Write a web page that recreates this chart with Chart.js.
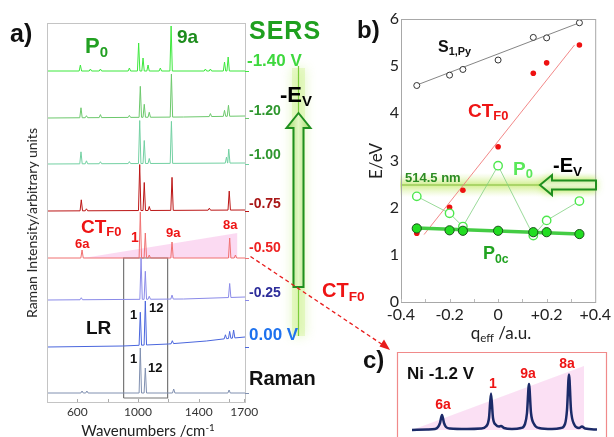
<!DOCTYPE html>
<html>
<head>
<meta charset="utf-8">
<script src="https://cdn.jsdelivr.net/npm/chart.js@4.4.0/dist/chart.umd.min.js"></script>
<style>
    html, body { margin: 0; padding: 0; background: #fff; }
    #wrap { position: relative; width: 614px; height: 437px; overflow: hidden; font-family: 'Liberation Sans', Arial, sans-serif; }
    #wrap canvas { position: absolute; left: 0; top: 0; }
    .t { position: absolute; white-space: nowrap; line-height: 1; transform: translateY(-50%); font-weight: bold; }
    .c { transform: translate(-50%, -50%); }
    .t sub { font-size: 0.68em; vertical-align: -0.3em; line-height: 0; }
    .t sup { font-size: 0.65em; vertical-align: 0.45em; line-height: 0; }
    .rot { position: absolute; white-space: nowrap; line-height: 1; transform: translate(-50%, -50%) rotate(-90deg); }
    .lato { font-family: Lato, 'Open Sans', sans-serif; font-weight: normal; color: #222; }
    .red { color: #ee1414; }
</style>
</head>
<body>
<div id="wrap">
    <canvas id="spectraChart" width="614" height="437"></canvas>
    <canvas id="energyChart" width="614" height="437"></canvas>
    <canvas id="insetChart" width="614" height="437"></canvas>

    <!-- panel a labels -->
    <div class="t" style="left:10px;top:33px;font-size:25px;color:#111">a)</div>
    <div class="t" style="left:85px;top:46px;font-size:22px;color:#22a022">P<sub>0</sub></div>
    <div class="t" style="left:177px;top:36px;font-size:19px;color:#1d8c1d">9a</div>
    <div class="t" style="left:249px;top:30px;font-size:25px;color:#1fa01f;letter-spacing:1px">SERS</div>
    <div class="t" style="left:247px;top:60px;font-size:17px;color:#3ed83e">-1.40 V</div>
    <div class="t" style="left:249px;top:110px;font-size:14px;color:#2e962e">-1.20</div>
    <div class="t" style="left:249px;top:154px;font-size:14px;color:#2e962e">-1.00</div>
    <div class="t" style="left:249px;top:203px;font-size:14px;color:#a81616">-0.75</div>
    <div class="t" style="left:249px;top:247px;font-size:14px;color:#ee2222">-0.50</div>
    <div class="t" style="left:249px;top:292px;font-size:14px;color:#2d2d9a">-0.25</div>
    <div class="t" style="left:249px;top:334px;font-size:17px;color:#1e72ee">0.00 V</div>
    <div class="t" style="left:249px;top:378px;font-size:20px;color:#111">Raman</div>
    <div class="t" style="left:280px;top:95px;font-size:22px;color:#000">-E<sub>V</sub></div>
    <div class="t red" style="left:81px;top:226px;font-size:19px">CT<sub>F0</sub></div>
    <div class="t red" style="left:75px;top:243px;font-size:13px">6a</div>
    <div class="t red" style="left:131px;top:237px;font-size:14px">1</div>
    <div class="t red" style="left:166px;top:232px;font-size:13px">9a</div>
    <div class="t red" style="left:223px;top:224px;font-size:13px">8a</div>
    <div class="t" style="left:86px;top:327px;font-size:19px;color:#111">LR</div>
    <div class="t" style="left:130px;top:314px;font-size:13px;color:#111">1</div>
    <div class="t" style="left:149px;top:307px;font-size:13px;color:#111">12</div>
    <div class="t" style="left:130px;top:358px;font-size:13px;color:#111">1</div>
    <div class="t" style="left:148px;top:367px;font-size:13px;color:#111">12</div>
    <div class="rot lato" style="left:32px;top:223px;font-size:14px">Raman Intensity/arbitrary units</div>
    <div class="t c lato" style="left:148px;top:430px;font-size:15px">Wavenumbers /cm<sup>-1</sup></div>
    <div class="t red" style="left:322px;top:290px;font-size:20px">CT<sub>F0</sub></div>

    <!-- panel b labels -->
    <div class="t" style="left:357px;top:30px;font-size:24px;color:#111">b)</div>
    <div class="t" style="left:438px;top:47px;font-size:16px;color:#111">S<sub>1,Py</sub></div>
    <div class="t red" style="left:468px;top:110px;font-size:19px">CT<sub>F0</sub></div>
    <div class="t" style="left:513px;top:168px;font-size:19px;color:#5ae85a">P<sub>0</sub></div>
    <div class="t" style="left:553px;top:165px;font-size:20px;color:#000">-E<sub>V</sub></div>
    <div class="t" style="left:405px;top:177px;font-size:13px;color:#2b8c22">514.5 nm</div>
    <div class="t" style="left:483px;top:253px;font-size:18px;color:#22a322">P<sub>0c</sub></div>
    <div class="rot lato" style="left:375px;top:161px;font-size:17px">E/eV</div>
    <div class="t c lato" style="left:501px;top:332px;font-size:17px">q<sub>eff</sub> /a.u.</div>

    <!-- panel c labels -->
    <div class="t" style="left:363px;top:360px;font-size:24px;color:#111">c)</div>
    <div class="t" style="left:407px;top:373px;font-size:17px;color:#111">Ni -1.2 V</div>
    <div class="t c red" style="left:443px;top:404px;font-size:14px">6a</div>
    <div class="t c red" style="left:493px;top:383px;font-size:14px">1</div>
    <div class="t c red" style="left:528px;top:373px;font-size:14px">9a</div>
    <div class="t c red" style="left:567px;top:363px;font-size:14px">8a</div>
</div>

<script>
// --- panel a: stacked SERS spectra (wavenumber cm-1, height in arbitrary units) ---
const wavenumberTicks = [600, 800, 1000, 1200, 1400, 1600, 1700];
const wavenumberLabels = ['600', '', '1000', '', '1400', '', '1700'];
const traceNames = ['-1.40 V', '-1.20', '-1.00', '-0.75', '-0.50', '-0.25', '0.00 V', 'Raman'];
const traceColors = ['#3de83d', '#6cc86c', '#72d0a2', '#bb1515', '#f07070', '#8a8ae8', '#4a66dd', '#8090b0'];
const traceOffsets = [331, 284, 238, 191, 144, 102, 55, 9];
const traceBaselines = [
    [[400, 0], [1705, 0]],
    [[400, 0], [1300, 1], [1705, 2]],
    [[400, 0], [1705, 1]],
    [[400, 0], [1705, 1]],
    [[400, 0], [1705, 0]],
    [[400, 0], [1300, 1], [1705, 3]],
    [[400, 0], [900, 1], [1200, 3], [1450, 6], [1560, 8], [1705, 10]],
    [[400, 0], [1705, 0]]
];
const tracePeaks = [
    [[620, 6], [686, 2], [752, 2], [943, 3], [1004, 28], [1033, 13], [1066, 6], [1147, 3], [1218, 45], [1444, 2], [1477, 2], [1570, 9], [1594, 14]],
    [[624, 10], [660, 2], [752, 3], [943, 2], [1015, 31], [1041, 13], [1074, 5], [1220, 43], [1477, 3], [1570, 6], [1596, 11]],
    [[624, 12], [660, 3], [752, 2], [943, 2], [1011, 43], [1041, 23], [1074, 5], [1220, 42], [1583, 6], [1598, 14]],
    [[626, 11], [660, 2], [1011, 46], [1041, 28], [1074, 4], [1224, 33], [1470, 2], [1601, 19]],
    [[631, 8], [1015, 46], [1048, 25], [1074, 3], [1224, 16], [1604, 20], [1642, 3]],
    [[626, 2], [1020, 41], [1048, 28], [1074, 3], [1224, 4], [1604, 14]],
    [[1015, 33], [1048, 44], [1226, 3], [1576, 4], [1604, 7], [1630, 8]],
    [[631, 2], [663, 2], [1015, 45], [1048, 25], [1235, 4], [1600, 3]]
];
// CT enhancement wedge on the -0.50 V trace and the LR window
const ctWedge = [[640, 0], [1655, 25]];
const lrWindow = [905, 1195, 4, 144];

// --- panel b: energies vs effective charge ---
const qEff = [-0.335, -0.2, -0.145, 0, 0.145, 0.2, 0.335];
const s1Energy = [4.59, 4.81, 4.93, 5.13, 5.61, 5.60, 5.92];
const ctEnergy = [1.46, 2.01, 2.37, 3.29, 4.85, 5.07, 5.45];
const p0Energy = [2.24, 1.88, 1.60, 2.89, 1.41, 1.73, 2.14];
const p0cEnergy = [1.56, 1.52, 1.51, 1.51, 1.48, 1.48, 1.44];
const s1Fit = [[-0.335, 4.60], [0.335, 5.92]];
const ctFit = [[-0.305, 1.43], [0.315, 5.45]];
const p0cFit = [[-0.335, 1.57], [0.335, 1.44]];
const laserEnergy = 2.48;
const qTicks = [-0.4, -0.3, -0.2, -0.1, 0, 0.1, 0.2, 0.3, 0.4];
const qLabels = ['-0.4', '', '-0.2', '', '0', '', '+0.2', '', '+0.4'];

// --- panel c: Ni -1.2 V inset spectrum (relative shift, intensity) ---
const insetShift = [15, 30, 38, 41, 43, 45, 47, 49, 53, 70, 84, 89, 92, 94, 96, 99, 102, 104, 107, 115, 124, 128, 130, 132, 134, 137, 142, 155, 164, 168, 170, 172, 174, 177, 182, 185, 188, 200];
const insetIntensity = [7, 7.5, 8, 10, 14, 22, 14, 10, 8.5, 8, 8.5, 10.5, 19, 43.5, 19, 12, 10.5, 11, 9, 8, 9, 13, 24, 53, 24, 13, 9, 8, 9, 13, 27, 62.5, 27, 13, 9, 10.5, 8.5, 7.5];
const insetWedge = [[15, 7], [187, 71]];

const tickFont = { family: "Lato, 'Open Sans', sans-serif" };

// --- helpers ---
function baselineAt(knots, x) {
    for (let k = 1; k < knots.length; k++) {
        if (x <= knots[k][0]) {
            const [x0, y0] = knots[k - 1], [x1, y1] = knots[k];
            return y0 + (y1 - y0) * (x - x0) / (x1 - x0);
        }
    }
    return knots[knots.length - 1][1];
}

function buildTrace(i) {
    const base = traceOffsets[i];
    const knots = traceBaselines[i];
    const pts = knots.map(([x, y]) => ({ x, y: base + y }));
    tracePeaks[i].forEach(([p, h]) => {
        pts.push({ x: p - 8, y: base + baselineAt(knots, p - 8) });
        pts.push({ x: p, y: base + baselineAt(knots, p) + h });
        pts.push({ x: p + 8, y: base + baselineAt(knots, p + 8) });
    });
    return pts.sort((a, b) => a.x - b.x);
}

const toPoints = (xs, ys) => xs.map((x, i) => ({ x, y: ys[i] }));
const pairPoints = (arr) => arr.map(([x, y]) => ({ x, y }));

// --- decorations drawn on the spectra canvas ---
const spectraDecor = {
    id: 'spectraDecor',
    afterDraw(chart) {
        const { ctx, chartArea: a, scales } = chart;
        ctx.save();
        // frame
        ctx.strokeStyle = '#c4c4c4';
        ctx.lineWidth = 1;
        ctx.strokeRect(a.left + 0.5, a.top + 0.5, a.right - a.left, a.bottom - a.top);
        // inner tick marks
        ctx.strokeStyle = '#aaa';
        wavenumberTicks.forEach(v => {
            const x = Math.round(scales.x.getPixelForValue(v)) + 0.5;
            ctx.beginPath(); ctx.moveTo(x, a.bottom); ctx.lineTo(x, a.bottom - 3); ctx.stroke();
        });
        // coloured trace marks on the right edge
        traceOffsets.forEach((o, i) => {
            const y = Math.round(scales.y.getPixelForValue(o)) + 0.5;
            ctx.strokeStyle = traceColors[i];
            ctx.beginPath(); ctx.moveTo(a.right, y); ctx.lineTo(a.right + 4, y); ctx.stroke();
        });

        // glowing vertical potential arrow
        ctx.save();
        ctx.shadowColor = 'rgba(170,230,70,0.95)';
        ctx.shadowBlur = 12;
        ctx.fillStyle = 'rgba(200,240,130,0.35)';
        ctx.fillRect(292, 68, 13, 268);
        ctx.restore();
        ctx.strokeStyle = '#7ccd3c';
        ctx.lineWidth = 1.2;
        ctx.beginPath(); ctx.moveTo(298.5, 66); ctx.lineTo(298.5, 336); ctx.stroke();

        ctx.beginPath();
        ctx.moveTo(298.5, 113);
        ctx.lineTo(310.5, 128);
        ctx.lineTo(303.5, 128);
        ctx.lineTo(303.5, 287);
        ctx.lineTo(293.5, 287);
        ctx.lineTo(293.5, 128);
        ctx.lineTo(286.5, 128);
        ctx.closePath();
        const g = ctx.createLinearGradient(287, 0, 310, 0);
        g.addColorStop(0, '#a4dc6a');
        g.addColorStop(0.5, '#e4f7c6');
        g.addColorStop(1, '#a4dc6a');
        ctx.fillStyle = g;
        ctx.fill();
        ctx.strokeStyle = '#1f8f1f';
        ctx.lineWidth = 2;
        ctx.stroke();

        // red dashed pointer to inset c)
        ctx.strokeStyle = '#e81c1c';
        ctx.fillStyle = '#e81c1c';
        ctx.lineWidth = 1.3;
        ctx.setLineDash([4, 3]);
        ctx.beginPath(); ctx.moveTo(250.5, 256.5); ctx.lineTo(383, 345); ctx.stroke();
        ctx.setLineDash([]);
        ctx.beginPath();
        ctx.moveTo(390, 350);
        ctx.lineTo(379.5, 346.5);
        ctx.lineTo(384, 339.5);
        ctx.closePath();
        ctx.fill();
        ctx.restore();
    }
};

const spectraDatasets = traceNames.map((name, i) => ({
    label: name,
    data: buildTrace(i),
    showLine: true,
    borderColor: traceColors[i],
    borderWidth: 1,
    pointRadius: 0,
    fill: false
}));
spectraDatasets.push({
    label: 'LR',
    data: [
        { x: lrWindow[0], y: lrWindow[2] }, { x: lrWindow[0], y: lrWindow[3] },
        { x: lrWindow[1], y: lrWindow[3] }, { x: lrWindow[1], y: lrWindow[2] },
        { x: lrWindow[0], y: lrWindow[2] }
    ],
    showLine: true, borderColor: '#777', borderWidth: 1.2, pointRadius: 0, fill: false
});
spectraDatasets.push({
    label: 'CT wedge',
    data: ctWedge.map(([x, y]) => ({ x, y: traceOffsets[4] + y })),
    showLine: true, borderWidth: 0, pointRadius: 0,
    backgroundColor: 'rgba(250,205,238,0.75)',
    fill: { value: traceOffsets[4] }
});

new Chart(document.getElementById('spectraChart'), {
    type: 'scatter',
    data: { datasets: spectraDatasets },
    options: {
        responsive: false, animation: false, events: [],
        layout: { padding: { left: 47, right: 369, top: 23, bottom: 0 } },
        plugins: { legend: { display: false }, tooltip: { enabled: false } },
        scales: {
            x: {
                type: 'linear', min: 400, max: 1705,
                afterFit(s) { s.height = 35; },
                afterBuildTicks(s) { s.ticks = wavenumberTicks.map(v => ({ value: v })); },
                ticks: { callback: (v, i) => wavenumberLabels[i], autoSkip: false, maxRotation: 0, padding: 3, color: '#333', font: { ...tickFont, size: 12 } },
                grid: { display: false, drawTicks: false },
                border: { display: false }
            },
            y: { display: false, min: 0, max: 379 }
        }
    },
    plugins: [spectraDecor]
});

// --- panel b ---
const energyDecor = {
    id: 'energyDecor',
    beforeDatasetsDraw(chart) {
        const { ctx, chartArea: a, scales } = chart;
        const y = scales.y.getPixelForValue(laserEnergy);
        ctx.save();
        const g = ctx.createLinearGradient(0, y - 12, 0, y + 12);
        g.addColorStop(0, 'rgba(205,238,130,0)');
        g.addColorStop(0.5, 'rgba(180,228,70,0.6)');
        g.addColorStop(1, 'rgba(205,238,130,0)');
        ctx.fillStyle = g;
        ctx.fillRect(a.left - 1, y - 12, a.right - a.left + 2, 24);
        ctx.strokeStyle = '#9ccc5a';
        ctx.lineWidth = 1.5;
        ctx.beginPath(); ctx.moveTo(a.left, y); ctx.lineTo(a.right, y); ctx.stroke();
        ctx.restore();
    },
    afterDraw(chart) {
        const { ctx, chartArea: a, scales } = chart;
        ctx.save();
        ctx.strokeStyle = '#a8a8a8';
        ctx.lineWidth = 1;
        ctx.strokeRect(a.left + 0.5, a.top + 0.5, a.right - a.left, a.bottom - a.top);
        ctx.strokeStyle = '#bbb';
        qTicks.forEach(v => {
            const x = Math.round(scales.x.getPixelForValue(v)) + 0.5;
            ctx.beginPath(); ctx.moveTo(x, a.bottom); ctx.lineTo(x, a.bottom - 3); ctx.stroke();
        });
        // left-pointing -Ev arrow on the laser line
        const y = scales.y.getPixelForValue(laserEnergy);
        ctx.shadowColor = 'rgba(170,230,60,0.9)';
        ctx.shadowBlur = 8;
        ctx.beginPath();
        ctx.moveTo(540, y);
        ctx.lineTo(552, y - 10);
        ctx.lineTo(552, y - 4.5);
        ctx.lineTo(596, y - 4.5);
        ctx.lineTo(596, y + 4.5);
        ctx.lineTo(552, y + 4.5);
        ctx.lineTo(552, y + 10);
        ctx.closePath();
        const g = ctx.createLinearGradient(0, y - 10, 0, y + 10);
        g.addColorStop(0, '#b4e47e');
        g.addColorStop(0.5, '#e8f8cc');
        g.addColorStop(1, '#b4e47e');
        ctx.fillStyle = g;
        ctx.fill();
        ctx.shadowBlur = 0;
        ctx.strokeStyle = '#1f8f1f';
        ctx.lineWidth = 2;
        ctx.stroke();
        ctx.restore();
    }
};

new Chart(document.getElementById('energyChart'), {
    type: 'scatter',
    data: {
        datasets: [
            { label: 'P0c', data: toPoints(qEff, p0cEnergy), pointRadius: 4.6, pointBackgroundColor: '#22dd22', pointBorderColor: '#1c4f1c', pointBorderWidth: 1 },
            { label: 'P0c fit', data: pairPoints(p0cFit), showLine: true, borderColor: '#44cc44', borderWidth: 3.5, pointRadius: 0 },
            { label: 'P0', data: toPoints(qEff, p0Energy), showLine: true, borderColor: '#80d080', borderWidth: 0.8, pointRadius: 4.2, pointBackgroundColor: '#fff', pointBorderColor: '#4ee84e', pointBorderWidth: 1.4 },
            { label: 'CTF0', data: toPoints(qEff, ctEnergy), pointRadius: 2.8, pointBackgroundColor: '#ee1111', pointBorderColor: '#ee1111', pointBorderWidth: 0 },
            { label: 'CT fit', data: pairPoints(ctFit), showLine: true, borderColor: '#f07a7a', borderWidth: 0.9, pointRadius: 0 },
            { label: 'S1,Py', data: toPoints(qEff, s1Energy), pointRadius: 3, pointBackgroundColor: '#fff', pointBorderColor: '#333', pointBorderWidth: 1 },
            { label: 'S1 fit', data: pairPoints(s1Fit), showLine: true, borderColor: '#666', borderWidth: 0.8, pointRadius: 0 }
        ]
    },
    options: {
        responsive: false, animation: false, events: [],
        layout: { padding: { left: 379, right: 12, top: 19, bottom: 110 } },
        plugins: { legend: { display: false }, tooltip: { enabled: false } },
        scales: {
            x: {
                type: 'linear', min: -0.4, max: 0.4,
                afterFit(s) { s.height = 25; },
                afterBuildTicks(s) { s.ticks = qTicks.map(v => ({ value: v })); },
                ticks: { callback: (v, i) => qLabels[i], autoSkip: false, maxRotation: 0, padding: 3, color: '#222', font: { ...tickFont, size: 16 } },
                grid: { display: false, drawTicks: false },
                border: { display: false }
            },
            y: {
                min: 0, max: 6,
                afterFit(s) { s.width = 22; },
                ticks: { stepSize: 1, padding: 2, color: '#222', font: { ...tickFont, size: 16 } },
                grid: { display: false, drawTicks: false },
                border: { display: false }
            }
        }
    },
    plugins: [energyDecor]
});

// --- panel c ---
const insetFrame = {
    id: 'insetFrame',
    afterDraw(chart) {
        const { ctx, chartArea: a } = chart;
        ctx.save();
        ctx.strokeStyle = '#f08a8a';
        ctx.lineWidth = 1.2;
        ctx.beginPath();
        ctx.moveTo(a.left + 0.5, a.bottom + 2);
        ctx.lineTo(a.left + 0.5, a.top + 0.5);
        ctx.lineTo(a.right - 0.5, a.top + 0.5);
        ctx.lineTo(a.right - 0.5, a.bottom + 2);
        ctx.stroke();
        ctx.restore();
    }
};

new Chart(document.getElementById('insetChart'), {
    type: 'scatter',
    data: {
        datasets: [
            { label: 'Ni -1.2 V', data: toPoints(insetShift, insetIntensity), showLine: true, borderColor: '#1b2a68', borderWidth: 2.5, pointRadius: 0, cubicInterpolationMode: 'monotone' },
            { label: 'wedge', data: pairPoints(insetWedge), showLine: true, borderWidth: 0, pointRadius: 0, backgroundColor: 'rgba(250,218,242,0.85)', fill: { value: insetWedge[0][1] } }
        ]
    },
    options: {
        responsive: false, animation: false, events: [],
        layout: { padding: { left: 397, right: 7, top: 352, bottom: 0 } },
        plugins: { legend: { display: false }, tooltip: { enabled: false } },
        scales: {
            x: { type: 'linear', display: false, min: 0, max: 210 },
            y: { display: false, min: 0, max: 85 }
        }
    },
    plugins: [insetFrame]
});
</script>
</body>
</html>
